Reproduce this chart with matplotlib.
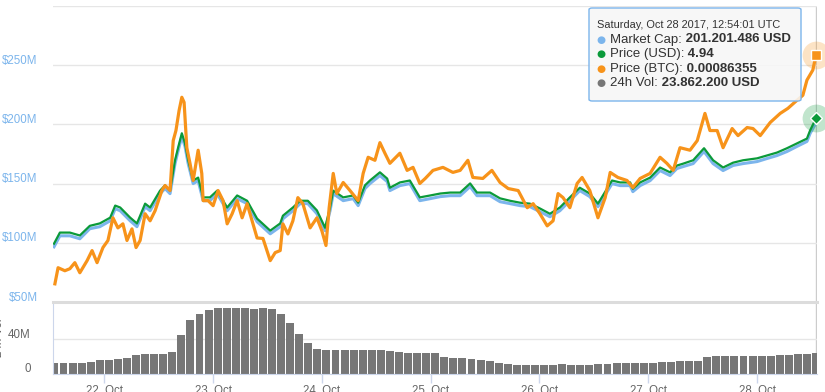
import numpy as np
import matplotlib.pyplot as plt
import matplotlib.transforms as mtransforms
from matplotlib.patches import FancyBboxPatch
from matplotlib.text import Annotation

plt.rcParams['font.family'] = ['Liberation Sans', 'DejaVu Sans']

# hours since 22 Oct 2017 00:00 UTC
hours = [-11.1, -9.8, -7.6, -5.4, -3.2, -1.0, 1.3, 2.4, 3.5, 5.7, 7.2, 9.0, 10.1, 12.3, 13.4,
         14.5, 15.6, 16.3, 17.1, 17.8, 18.5, 19.6, 20.7, 21.8, 23.3, 24.9, 27.1, 29.3, 31.5,
         33.7, 36.6, 38.8, 39.4, 41.6, 43.2, 44.9, 46.9, 48.7, 49.8, 50.5, 52.7, 54.9, 56.0,
         57.5, 58.6, 60.8, 62.4, 63.0, 65.2, 67.4, 69.6, 71.9, 74.1, 76.3, 78.5, 80.7, 82.2,
         85.1, 87.3, 89.5, 91.7, 93.9, 96.1, 98.3, 100.5, 102.7, 104.9, 107.1, 108.9, 110.0,
         112.0, 113.8, 116.0, 116.6, 118.2, 120.4, 122.6, 124.8, 126.3, 127.7, 129.9, 132.3,
         134.3, 136.5, 138.7, 140.9, 144.0, 146.2, 148.4, 150.6, 152.8, 155.0, 155.7, 157.0]
# million USD
market_cap = [96.6, 105.9, 105.9, 103.4, 111.9, 113.6, 118.6, 128.8, 127.1, 118.6, 113.6, 130.5,
              127.1, 141.5, 145.8, 141.5, 166.9, 178.0, 189.8, 181.4, 166.9, 150.0, 152.5, 135.6,
              135.6, 141.5, 127.1, 137.3, 133.1, 117.8, 107.6, 113.6, 120.3, 127.1, 133.1, 133.1,
              124.6, 110.2, 127.1, 141.5, 135.6, 137.3, 131.4, 145.8, 150.0, 156.8, 151.7, 144.1,
              148.3, 150.0, 135.6, 137.3, 139.0, 139.8, 139.8, 147.5, 139.8, 139.8, 134.7, 133.1,
              131.4, 130.5, 126.3, 122.0, 127.1, 135.6, 144.1, 139.0, 130.5, 137.3, 150.0, 148.3,
              148.3, 143.2, 148.3, 152.5, 161.0, 156.8, 162.7, 164.4, 166.9, 177.1, 166.9, 161.0,
              165.3, 166.9, 168.6, 171.2, 173.7, 177.1, 181.4, 185.6, 192.4, 201.2]
price_usd = [2.34, 2.57, 2.57, 2.51, 2.71, 2.76, 2.88, 3.13, 3.09, 2.88, 2.76, 3.17, 3.09, 3.44,
             3.55, 3.44, 4.07, 4.34, 4.63, 4.42, 4.07, 3.65, 3.71, 3.30, 3.30, 3.44, 3.09, 3.34,
             3.23, 2.86, 2.61, 2.76, 2.92, 3.09, 3.23, 3.23, 3.03, 2.67, 3.09, 3.44, 3.30, 3.34,
             3.19, 3.55, 3.65, 3.82, 3.69, 3.50, 3.61, 3.65, 3.30, 3.34, 3.38, 3.40, 3.40, 3.59,
             3.40, 3.40, 3.28, 3.23, 3.19, 3.17, 3.07, 2.96, 3.09, 3.30, 3.50, 3.38, 3.17, 3.34,
             3.65, 3.61, 3.61, 3.48, 3.61, 3.71, 3.92, 3.82, 3.96, 4.00, 4.07, 4.32, 4.07, 3.92,
             4.02, 4.07, 4.11, 4.17, 4.23, 4.32, 4.42, 4.52, 4.69, 4.94]

btc_hours = [-10.9, -10.2, -8.7, -7.6, -6.5, -5.4, -3.8, -2.7, -1.6, -0.3, 0.8, 1.9, 3.0, 4.1,
             5.0, 6.1, 7.0, 7.9, 9.0, 10.1, 11.2, 12.7, 13.4, 14.5, 15.2, 15.8, 16.5, 17.1, 17.6,
             18.2, 18.9, 19.6, 20.7, 21.5, 21.8, 22.9, 24.0, 25.1, 26.2, 27.1, 28.2, 29.3, 30.4,
             31.5, 32.6, 33.7, 35.0, 36.6, 37.7, 38.8, 39.4, 40.5, 41.6, 42.7, 43.8, 45.4, 46.9,
             48.0, 48.9, 49.6, 50.5, 51.3, 52.7, 54.2, 56.0, 57.1, 58.2, 59.7, 60.8, 61.9, 63.0,
             65.2, 66.8, 68.1, 69.6, 70.8, 72.5, 74.7, 76.9, 78.5, 80.2, 81.3, 83.5, 85.5, 87.3,
             89.1, 91.3, 93.3, 94.6, 96.1, 97.7, 99.0, 100.1, 101.2, 102.7, 104.3, 105.4, 107.1,
             108.9, 110.5, 111.6, 113.3, 115.3, 116.6, 118.2, 120.4, 122.6, 124.1, 125.5, 127.0,
             129.2, 130.8, 132.5, 133.6, 135.2, 136.5, 138.5, 139.8, 141.8, 143.1, 144.7, 146.9,
             149.1, 150.8, 152.8, 154.1, 155.0, 156.3, 157.0]
price_btc = [0.000410, 0.000442, 0.000436, 0.000440, 0.000452, 0.000432, 0.000456, 0.000476,
             0.000452, 0.000482, 0.000496, 0.000541, 0.000521, 0.000529, 0.000496, 0.000519,
             0.000482, 0.000496, 0.000549, 0.000535, 0.000555, 0.000595, 0.000605, 0.000595,
             0.000694, 0.000714, 0.000754, 0.000780, 0.000770, 0.000680, 0.000649, 0.000615,
             0.000675, 0.000629, 0.000575, 0.000575, 0.000565, 0.000595, 0.000575, 0.000529,
             0.000549, 0.000575, 0.000541, 0.000569, 0.000535, 0.000501, 0.000500, 0.000456,
             0.000472, 0.000476, 0.000529, 0.000509, 0.000535, 0.000581, 0.000569, 0.000521,
             0.000541, 0.000515, 0.000486, 0.000561, 0.000629, 0.000589, 0.000611, 0.000595,
             0.000575, 0.000629, 0.000661, 0.000655, 0.000690, 0.000669, 0.000649, 0.000669,
             0.000635, 0.000641, 0.000609, 0.000619, 0.000635, 0.000641, 0.000631, 0.000635,
             0.000655, 0.000621, 0.000619, 0.000635, 0.000611, 0.000599, 0.000595, 0.000561,
             0.000569, 0.000549, 0.000525, 0.000535, 0.000589, 0.000581, 0.000561, 0.000609,
             0.000621, 0.000595, 0.000541, 0.000581, 0.000631, 0.000621, 0.000615, 0.000601,
             0.000619, 0.000629, 0.000661, 0.000649, 0.000635, 0.000680, 0.000675, 0.000694,
             0.000748, 0.000714, 0.000714, 0.000680, 0.000718, 0.000704, 0.000720, 0.000718,
             0.000704, 0.000730, 0.000748, 0.000758, 0.000774, 0.000784, 0.000814, 0.000834,
             0.00086355]

# 2h volume bars, million USD
vol_hours = np.arange(-11, 158, 2)
volume = [12.6, 12.6, 12.8, 13.0, 13.2, 15.5, 16.0, 17.5, 18.0, 21.5, 22.5, 22.5, 22.5, 25.5,
          45, 62, 69, 73, 76, 75, 75.5, 75, 74.5, 75, 74, 69, 58, 46, 35, 29, 27.5, 27.5, 27.5,
          27.4, 27.4, 27.8, 27, 26.5, 25.5, 24, 23.8, 23.8, 23.6, 19, 18, 18, 17.5, 16, 15.2, 13,
          11.5, 10.5, 10.3, 10.3, 10.3, 10.5, 11, 10.8, 10.5, 10.3, 11, 12, 13, 13, 12.5, 12.5,
          13, 14, 14, 14.5, 14.5, 14.5, 19.5, 21, 21, 21, 21, 21, 21, 20.5, 22, 22, 22.5, 23,
          23.86]

day_ticks = [0, 24, 48, 72, 96, 120, 144]
day_labels = ['22. Oct', '23. Oct', '24. Oct', '25. Oct', '26. Oct', '27. Oct', '28. Oct']

cap_ticks = [50, 100, 150, 200, 250, 300]
cap_labels = ['$50M', '$100M', '$150M', '$200M', '$250M', '']

BLUE = '#7cb5ec'
GREEN = '#0b9a3a'
ORANGE = '#f7931a'
W, H = 825, 392


def px(x, y):
    return x / W, 1 - y / H


def main():
    fig = plt.figure(figsize=(W / 100, H / 100), dpi=100)
    ax = fig.add_axes([53 / W, 1 - 302 / H, 764 / W, 296 / H])
    axv = fig.add_axes([53 / W, 1 - 374 / H, 764 / W, 72 / H], sharex=ax)
    ax_usd = ax.twinx()
    ax_btc = ax.twinx()

    up = mtransforms.ScaledTranslation(0, 0.06, fig.dpi_scale_trans)

    # price panel
    ax.plot(hours, market_cap, color=BLUE, lw=2.2, solid_joinstyle='round')
    ax_usd.plot(hours, price_usd, color=GREEN, lw=1.6, solid_joinstyle='round')
    ax_btc.plot(btc_hours, price_btc, color=ORANGE, lw=2.3, solid_joinstyle='round')

    ax_usd.plot(hours[-1], price_usd[-1], 'o', ms=20, color=GREEN, alpha=0.25, mec='none', clip_on=False)
    ax_usd.plot(hours[-1], price_usd[-1], 'D', ms=6, color=GREEN, mec='white', mew=1, clip_on=False)
    ax_btc.plot(btc_hours[-1], price_btc[-1], 'o', ms=20, color=ORANGE, alpha=0.25, mec='none', clip_on=False)
    ax_btc.plot(btc_hours[-1], price_btc[-1], 's', ms=6.5, color=ORANGE, mec='white', mew=1, clip_on=False)

    ax.set_xlim(-11.32, 157.22)
    ax.set_ylim(50, 300)
    ax_usd.set_ylim(1.13, 7.27)
    ax_btc.set_ylim(0.000374, 0.000961)
    ax.set_yticks(cap_ticks)
    ax.set_yticklabels(cap_labels)
    ax.tick_params(axis='y', length=0, pad=11, labelcolor=BLUE, labelsize=8.3)
    ax.tick_params(axis='x', length=0, labelbottom=False)
    for lab in ax.get_yticklabels():
        lab.set_transform(lab.get_transform() + up)
    ax.grid(axis='y', color='#e6e6e6', lw=1)
    ax.set_axisbelow(True)
    for a in (ax, ax_usd, ax_btc):
        for s in a.spines.values():
            s.set_visible(False)
    for a in (ax_usd, ax_btc):
        a.set_yticks([])
    ax.axvline(157.0, color='#cccccc', lw=1, zorder=0)

    # volume panel
    axv.bar(vol_hours, volume, width=1.75, color='#777777', linewidth=0)
    axv.set_ylim(0, 82.3)
    axv.set_yticks([0, 40])
    axv.set_yticklabels(['0', '40M'])
    axv.tick_params(axis='y', length=0, pad=16, labelcolor='#666666', labelsize=8.3)
    for lab in axv.get_yticklabels():
        lab.set_transform(lab.get_transform() + up)
    axv.set_xticks(day_ticks)
    axv.set_xticklabels(day_labels)
    axv.tick_params(axis='x', length=6.5, width=1, color='#ccd6eb', pad=1.5,
                    labelcolor='#666666', labelsize=8.3)
    axv.grid(axis='y', color='#e6e6e6', lw=1)
    axv.set_axisbelow(True)
    axv.spines['right'].set_visible(False)
    axv.spines['top'].set_color('#dcdcdc')
    axv.spines['top'].set_linewidth(2.2)
    axv.spines['left'].set_color('#ccd6eb')
    axv.spines['bottom'].set_color('#ccd6eb')
    axv.axvline(157.0, color='#cccccc', lw=1, zorder=0)
    fig.text(-1 / W, 1 - 338 / H, '24h Vol', rotation=90, ha='center', va='center',
             fontsize=8.3, color='#666666')

    # tooltip
    box = FancyBboxPatch(px(589, 101), 212 / W, 93 / H, boxstyle='round,pad=0,rounding_size=0.004',
                         transform=fig.transFigure, facecolor=(0.97, 0.97, 0.97, 0.88),
                         edgecolor=BLUE, lw=1, zorder=10)
    fig.add_artist(box)
    fig.text(*px(597, 24.5), 'Saturday, Oct 28 2017, 12:54:01 UTC', fontsize=7.9,
             color='#333333', va='center', zorder=11)
    rows = [('Market Cap:', '201.201.486 USD', BLUE),
            ('Price (USD):', '4.94', GREEN),
            ('Price (BTC):', '0.00086355', ORANGE),
            ('24h Vol:', '23.862.200 USD', '#777777')]
    for i, (name, val, col) in enumerate(rows):
        y = 39.5 + i * 14.6
        fig.text(*px(601, y), '\u25cf', fontsize=7.5, color=col, ha='center', va='center',
                 family='DejaVu Sans', zorder=11)
        t = fig.text(*px(610, y), name, fontsize=9.5, color='#333333', va='center', zorder=11)
        fig.add_artist(Annotation(' ' + val, xy=(1, 0.5), xycoords=t, va='center', ha='left',
                                  fontsize=9.5, fontweight='bold', color='#333333', zorder=11))

    fig.savefig('out.png', dpi=100)


main()
